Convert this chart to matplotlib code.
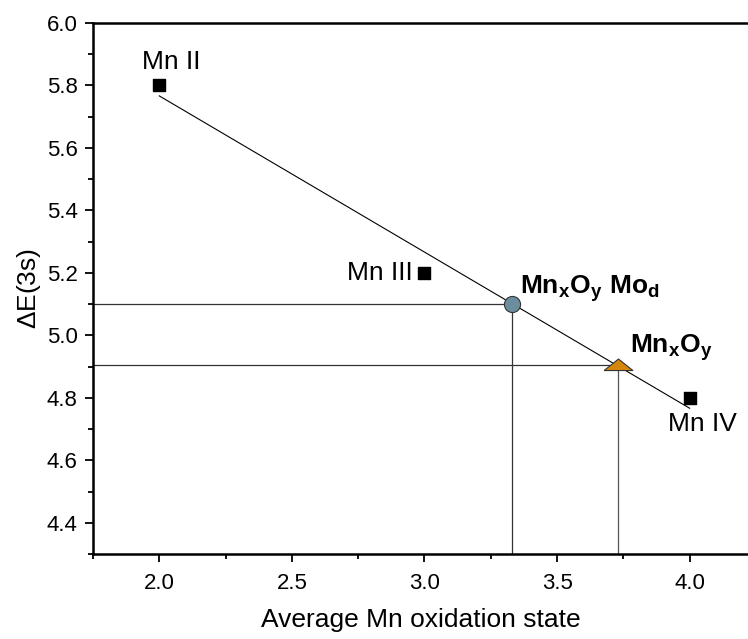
import numpy as np
import matplotlib
matplotlib.use('Agg')
import matplotlib.pyplot as plt
from matplotlib.ticker import MultipleLocator

plt.rcParams['font.family'] = ['Liberation Sans', 'DejaVu Sans']
plt.rcParams['mathtext.fontset'] = 'custom'
plt.rcParams['mathtext.rm'] = 'Liberation Sans'
plt.rcParams['mathtext.bf'] = 'Liberation Sans:bold'

# reference oxides
ox_state = [2.0, 3.0, 4.0]
delta_e = [5.8, 5.2, 4.8]
ref_labels = ['Mn II', 'Mn III', 'Mn IV']

# samples
sample_x = [3.33, 3.73]
sample_y = [5.1, 4.905]
sample_labels = [r'$\mathbf{Mn_xO_y\ Mo_d}$', r'$\mathbf{Mn_xO_y}$']

fig = plt.figure(figsize=(7.48, 6.39), dpi=100)
ax = fig.add_axes([0.1243, 0.133, 0.8757, 0.831])
ax.set_xlim(1.75, 4.22)
ax.set_ylim(4.3, 6.0)

# linear fit through the reference points
slope, icpt = np.polyfit(ox_state, delta_e, 1)
fx = np.array([ox_state[0], ox_state[-1]])
ax.plot(fx, slope * fx + icpt, color='black', lw=0.8, zorder=2)

# guide lines to axes
for x, y, c in zip(sample_x, sample_y, ['#333333', '#555555']):
    ax.plot([1.75, x], [y, y], color='#333333', lw=0.9, zorder=1)
    ax.plot([x, x], [4.3, y], color=c, lw=0.9, zorder=1)

# flat triangle like the original
flat_tri = [(-1.0, -0.35), (1.0, -0.35), (0.0, 0.45), (-1.0, -0.35)]

ax.scatter(ox_state, delta_e, marker='s', s=75, color='black', zorder=3)
ax.scatter(sample_x[0], sample_y[0], marker='o', s=135, color='#6B8E9E',
           edgecolor='#333333', lw=0.8, zorder=4)
ax.scatter(sample_x[1], sample_y[1], marker=flat_tri, s=430, color='#D4870C',
           edgecolor='#333333', lw=0.8, zorder=4)

# labels
ax.text(2.045, 5.875, ref_labels[0], fontsize=19, ha='center', va='center')
ax.text(2.955, 5.2, ref_labels[1], fontsize=19, ha='right', va='center')
ax.text(4.05, 4.715, ref_labels[2], fontsize=19, ha='center', va='center')
ax.text(3.36, 5.15, sample_labels[0], fontsize=19, ha='left', va='center')
ax.text(3.775, 4.96, sample_labels[1], fontsize=19, ha='left', va='center')

ax.spines['right'].set_visible(False)
for s in ['left', 'bottom', 'top']:
    ax.spines[s].set_linewidth(1.8)

ax.xaxis.set_major_locator(MultipleLocator(0.5))
ax.xaxis.set_minor_locator(MultipleLocator(0.25))
ax.yaxis.set_major_locator(MultipleLocator(0.2))
ax.yaxis.set_minor_locator(MultipleLocator(0.1))
ax.xaxis.set_major_formatter(plt.FormatStrFormatter('%.1f'))
ax.yaxis.set_major_formatter(plt.FormatStrFormatter('%.1f'))
ax.tick_params(which='major', direction='out', length=6, width=1.3,
               labelsize=16, pad=5)
ax.tick_params(axis='x', which='major', pad=8)
ax.tick_params(which='minor', direction='out', length=3.5, width=1.3)

ax.set_xlabel('Average Mn oxidation state', fontsize=19, labelpad=10)
ax.set_ylabel(r'$\Delta$E(3s)', fontsize=19, labelpad=3)

plt.savefig('out.png', dpi=100)
plt.close()
